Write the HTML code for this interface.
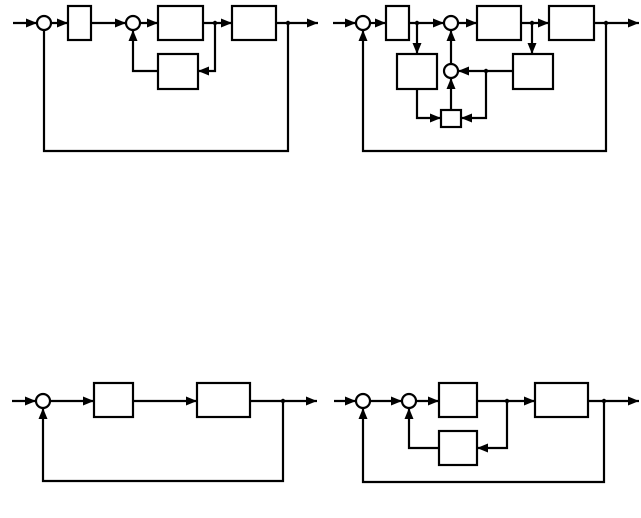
<!DOCTYPE html>
<html><head><style>html,body{margin:0;padding:0;background:#fff}</style></head><body>
<svg width="641" height="513" viewBox="0 0 641 513" xmlns="http://www.w3.org/2000/svg">
<defs>
<marker id="a" viewBox="0 0 11 9" refX="11" refY="4.5" markerWidth="11" markerHeight="9" markerUnits="userSpaceOnUse" orient="auto"><path d="M0,0L11,4.5L0,9z" fill="#000"/></marker>
</defs>
<g fill="none" stroke="#000" stroke-width="2.2">
<line x1="13" y1="23" x2="37" y2="23" marker-end="url(#a)"/>
<circle cx="44" cy="23" r="7" fill="#fff"/>
<line x1="51" y1="23" x2="68" y2="23" marker-end="url(#a)"/>
<rect x="68" y="6" width="23" height="34"/>
<line x1="91" y1="23" x2="126" y2="23" marker-end="url(#a)"/>
<circle cx="133" cy="23" r="7"/>
<line x1="140" y1="23" x2="158" y2="23" marker-end="url(#a)"/>
<rect x="158" y="6" width="45" height="34"/>
<line x1="203" y1="23" x2="232" y2="23" marker-end="url(#a)"/>
<rect x="232" y="6" width="44" height="34"/>
<line x1="276" y1="23" x2="318" y2="23" marker-end="url(#a)"/>
<polyline points="215,23 215,71 198,71" marker-end="url(#a)"/>
<rect x="158" y="54" width="40" height="35"/>
<polyline points="158,71 133,71 133,30" marker-end="url(#a)"/>
<polyline points="288,23 288,151 44,151 44,30"/>
<line x1="333" y1="23" x2="356" y2="23" marker-end="url(#a)"/>
<circle cx="363" cy="23" r="7"/>
<line x1="370" y1="23" x2="386" y2="23" marker-end="url(#a)"/>
<rect x="386" y="6" width="23" height="34"/>
<line x1="409" y1="23" x2="444" y2="23" marker-end="url(#a)"/>
<circle cx="451" cy="23" r="7"/>
<line x1="458" y1="23" x2="477" y2="23" marker-end="url(#a)"/>
<rect x="477" y="6" width="44" height="34"/>
<line x1="521" y1="23" x2="549" y2="23" marker-end="url(#a)"/>
<rect x="549" y="6" width="45" height="34"/>
<line x1="594" y1="23" x2="639" y2="23" marker-end="url(#a)"/>
<line x1="417" y1="23" x2="417" y2="54" marker-end="url(#a)"/>
<rect x="397" y="54" width="40" height="35"/>
<line x1="532" y1="23" x2="532" y2="54" marker-end="url(#a)"/>
<rect x="513" y="54" width="40" height="35"/>
<line x1="513" y1="71" x2="458" y2="71" marker-end="url(#a)"/>
<circle cx="451" cy="71" r="7"/>
<line x1="451" y1="64" x2="451" y2="30" marker-end="url(#a)"/>
<polyline points="486,71 486,118 461,118" marker-end="url(#a)"/>
<polyline points="417,89 417,118 441,118" marker-end="url(#a)"/>
<rect x="441" y="110" width="20" height="17"/>
<line x1="451" y1="110" x2="451" y2="78" marker-end="url(#a)"/>
<polyline points="606,23 606,151 363,151 363,30" marker-end="url(#a)"/>
<line x1="12" y1="401" x2="36" y2="401" marker-end="url(#a)"/>
<circle cx="43" cy="401" r="7"/>
<line x1="50" y1="401" x2="94" y2="401" marker-end="url(#a)"/>
<rect x="94" y="383" width="39" height="34"/>
<line x1="133" y1="401" x2="197" y2="401" marker-end="url(#a)"/>
<rect x="197" y="383" width="53" height="34"/>
<line x1="250" y1="401" x2="317" y2="401" marker-end="url(#a)"/>
<polyline points="283,401 283,481 43,481 43,408" marker-end="url(#a)"/>
<line x1="334" y1="401" x2="356" y2="401" marker-end="url(#a)"/>
<circle cx="363" cy="401" r="7"/>
<line x1="370" y1="401" x2="402" y2="401" marker-end="url(#a)"/>
<circle cx="409" cy="401" r="7"/>
<line x1="416" y1="401" x2="439" y2="401" marker-end="url(#a)"/>
<rect x="439" y="383" width="38" height="34"/>
<line x1="477" y1="401" x2="535" y2="401" marker-end="url(#a)"/>
<rect x="535" y="383" width="53" height="34"/>
<line x1="588" y1="401" x2="639" y2="401" marker-end="url(#a)"/>
<polyline points="507,401 507,448 477,448" marker-end="url(#a)"/>
<rect x="439" y="431" width="38" height="34"/>
<polyline points="439,448 409,448 409,408" marker-end="url(#a)"/>
<polyline points="604,401 604,482 363,482 363,408" marker-end="url(#a)"/>
</g>
<g fill="#000">
<circle cx="215" cy="23" r="2.2"/><circle cx="288" cy="23" r="2.2"/>
<circle cx="417" cy="23" r="2.2"/><circle cx="532" cy="23" r="2.2"/><circle cx="606" cy="23" r="2.2"/><circle cx="486" cy="71" r="2.2"/>
<circle cx="283" cy="401" r="2.2"/><circle cx="507" cy="401" r="2.2"/><circle cx="604" cy="401" r="2.2"/>
</g>
</svg>
</body></html>
